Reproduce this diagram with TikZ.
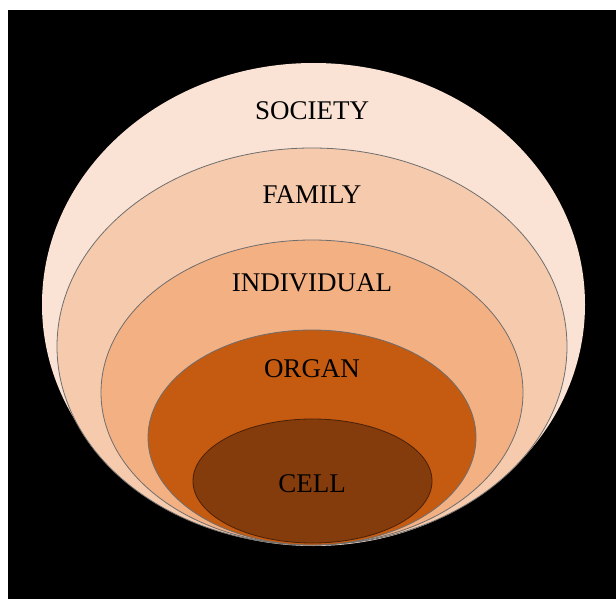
\documentclass[tikz,border=0pt]{standalone}
\usepackage{fontspec}
\setmainfont{Liberation Serif}
\definecolor{societyc}{HTML}{FAE3D5}
\definecolor{familyc}{HTML}{F6CAAD}
\definecolor{indivc}{HTML}{F3B083}
\definecolor{organc}{HTML}{C55A11}
\definecolor{cellc}{HTML}{843C0C}
\definecolor{edgec}{HTML}{6E6E6E}
\definecolor{celledge}{HTML}{4A2006}
\begin{document}
\begin{tikzpicture}[x=1pt,y=-1pt,
  ring/.style={draw=edgec,line width=0.8pt},
  lbl/.style={inner sep=0pt,anchor=base,font=\fontsize{27}{30}\selectfont,text=black}]
\useasboundingbox (0,0) rectangle (616,599);
\fill[white] (0,0) rectangle (616,599);
\fill[black] (8,10) rectangle (616,599);
\fill[societyc] (313.5,304.5) ellipse [x radius=271.5, y radius=241.5];
\filldraw[ring,fill=familyc] (312,346.5) ellipse [x radius=255, y radius=198.5];
\filldraw[ring,fill=indivc] (312,392.5) ellipse [x radius=211, y radius=152.5];
\filldraw[ring,fill=organc] (312,437.5) ellipse [x radius=164, y radius=107.5];
\filldraw[draw=celledge,line width=0.8pt,fill=cellc] (312.5,481) ellipse [x radius=119.5, y radius=62];
\node[lbl] (society) at (312,120) {SOCIETY};
\node[lbl] (family) at (312,204) {FAMILY};
\node[lbl] (individual) at (312,291) {INDIVIDUAL};
\node[lbl] (organ) at (312,377) {ORGAN};
\node[lbl] (cell) at (312,492) {CELL};
\end{tikzpicture}
\end{document}
